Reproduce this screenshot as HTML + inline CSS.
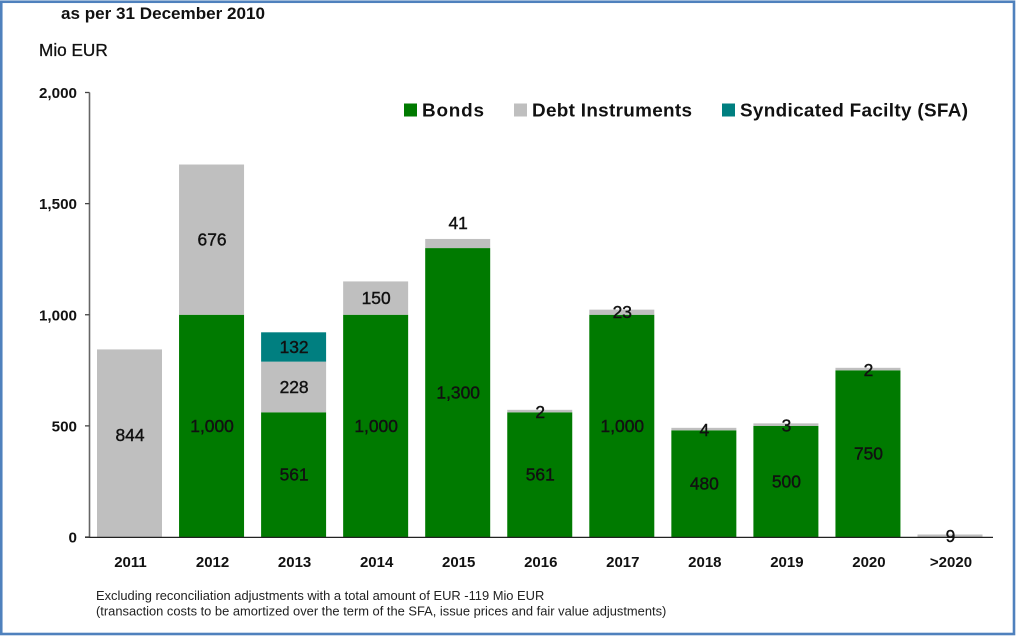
<!DOCTYPE html>
<html lang="en">
<head>
<meta charset="utf-8">
<title>Maturity profile as per 31 December 2010</title>
<style>
html,body{margin:0;padding:0;background:#fff}
svg{display:block}
text{font-family:"Liberation Sans",Arial,sans-serif;fill:#111}
</style>
</head>
<body>
<svg id="chart" xmlns="http://www.w3.org/2000/svg" width="1016" height="636" viewBox="0 0 1016 636">
  <rect x="0" y="0" width="1016" height="636" fill="#fff"/>
  <rect x="1.25" y="1.75" width="1012.75" height="632.25" fill="none" stroke="#4f81bd" stroke-width="2.6"/>
  <text x="61" y="19" font-size="16.9" font-weight="700" textLength="204" lengthAdjust="spacingAndGlyphs">as per 31 December 2010</text>
  <text x="39" y="56" font-size="17.2" font-weight="400" stroke="#111" stroke-width="0.3">Mio EUR</text>
  <g id="plot"></g>
  <g>
    <g>
      <rect x="404" y="103.5" width="13" height="13" fill="#007a00"/>
      <text x="422" y="116.5" font-size="18.9" font-weight="700" textLength="62" lengthAdjust="spacing">Bonds</text>
    </g>
    <g>
      <rect x="514" y="103.5" width="13" height="13" fill="#bfbfbf"/>
      <text x="532" y="116.5" font-size="18.9" font-weight="700" textLength="160" lengthAdjust="spacing">Debt Instruments</text>
    </g>
    <g>
      <rect x="722" y="103.5" width="13" height="13" fill="#007f80"/>
      <text x="740" y="116.5" font-size="18.9" font-weight="700" textLength="228" lengthAdjust="spacing">Syndicated Facilty (SFA)</text>
    </g>
  </g>
  <g>
    <text x="96" y="600" font-size="12.9" style="fill:#222">Excluding reconciliation adjustments with a total amount of EUR -119 Mio EUR</text>
    <text x="96" y="615.5" font-size="12.9" style="fill:#222">(transaction costs to be amortized over the term of the SFA, issue prices and fair value adjustments)</text>
  </g>
</svg>
<script>
const categories = ['2011','2012','2013','2014','2015','2016','2017','2018','2019','2020','>2020'];
const bonds = [0,1000,561,1000,1300,561,1000,480,500,750,0];
const debtInstruments = [844,676,228,150,41,2,23,4,3,2,9];
const syndicatedFacility = [0,0,132,0,0,0,0,0,0,0,0];
const yTicks = [0,500,1000,1500,2000];
const yTickLabels = ['0','500','1,000','1,500','2,000'];

const svgNS = 'http://www.w3.org/2000/svg';
const plot = document.getElementById('plot');
const y0 = 537, yTop = 92.5, yMax = 2000;
const xFirst = 129.5, xStep = 82.05, barW = 65;
function yScale(v){ return y0 - (v / yMax) * (y0 - yTop); }
function xScale(i){ return xFirst + i * xStep; }

function make(tag, attrs, parent){
  const el = document.createElementNS(svgNS, tag);
  for (const k in attrs) el.setAttribute(k, attrs[k]);
  parent.appendChild(el);
  return el;
}

const seriesList = [
  {key:'bonds', values:bonds, color:'#007a00'},
  {key:'debt-instruments', values:debtInstruments, color:'#bfbfbf'},
  {key:'syndicated-facility', values:syndicatedFacility, color:'#007f80'}
];

categories.forEach(function(cat, i){
  let base = 0;
  seriesList.forEach(function(s){
    const v = s.values[i];
    if (!v) return;
    const bottom = yScale(base);
    const h = Math.max(bottom - yScale(base + v), 2.5);
    const r = make('rect', {x:xScale(i) - barW/2, y:bottom - h, width:barW, height:h, fill:s.color}, plot);
    
    
    base += v;
  });
});

const axisY = make('line', {x1:89.5, x2:89.5, y1:yTop, y2:y0, stroke:'#666', 'stroke-width':1.6}, plot);


const axisX = make('line', {x1:85, x2:993, y1:y0 + 0.4, y2:y0 + 0.4, stroke:'#222', 'stroke-width':1.3}, plot);



yTicks.forEach(function(t, i){
  const y = yScale(t);
  const tick = make('line', {x1:85, x2:89.5, y1:y, y2:y, stroke:'#444', 'stroke-width':1.3}, plot);
  
  
  const label = make('text', {x:77, y:y + 5.5, 'text-anchor':'end', 'font-size':15.2, 'font-weight':700}, plot);
  label.textContent = yTickLabels[i];
  
  
});

categories.forEach(function(cat, i){
  const label = make('text', {x:xScale(i) + 1, y:567, 'text-anchor':'middle', 'font-size':15, 'font-weight':700}, plot);
  label.textContent = cat;
  
  
});

function fmt(v){ return v.toLocaleString('en-US'); }

categories.forEach(function(cat, i){
  let base = 0;
  seriesList.forEach(function(s){
    const v = s.values[i];
    if (!v) return;
    let mid = yScale(base + v/2);
    // Two labels are placed off-centre in the source chart: 2015 debt sits above its bar, 2011 rides high.
    if (cat === '2015' && s.key === 'debt-instruments') mid = yScale(base + v) - 16;
    if (cat === '2011') mid -= 8;
    const t = make('text', {x:xScale(i) + 0.5, y:mid + 6, 'text-anchor':'middle', 'font-size':17.4, 'font-weight':400, stroke:'#111', 'stroke-width':0.4}, plot);
    t.textContent = fmt(v);
    
    
    base += v;
  });
});
</script>
</body>
</html>
